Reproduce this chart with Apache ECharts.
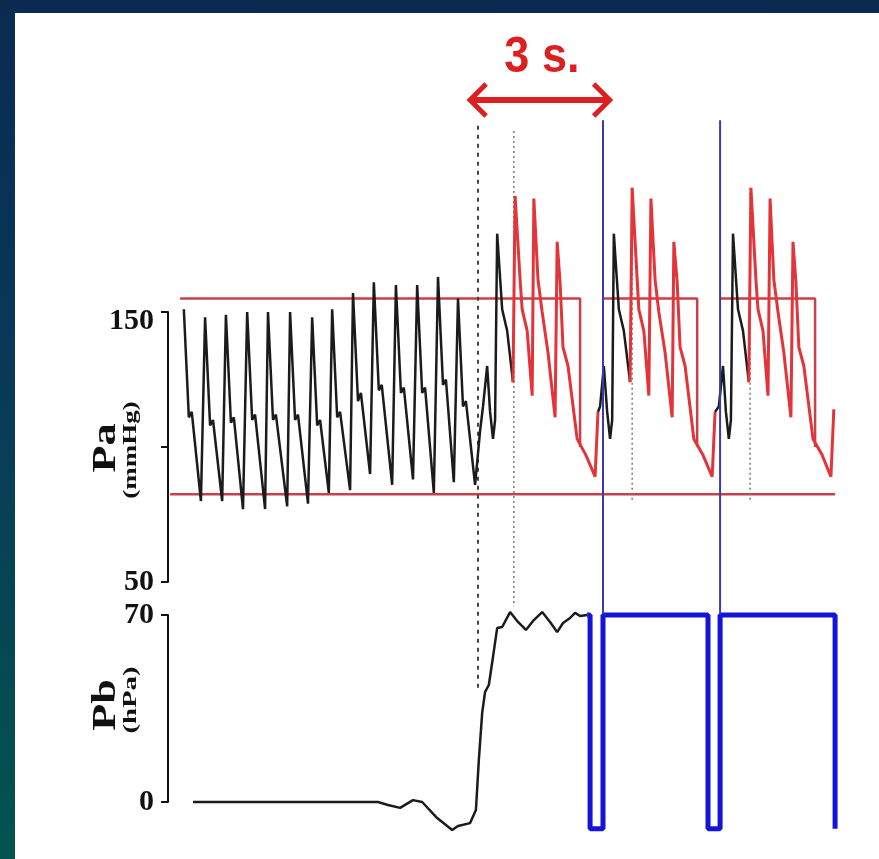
<!DOCTYPE html>
<html>
<head>
<meta charset="utf-8">
<script src="https://cdn.jsdelivr.net/npm/echarts@6/dist/echarts.min.js"></script>
<style>
html, body { margin: 0; padding: 0; }
body { width: 879px; height: 859px; position: relative; overflow: hidden;
       background: linear-gradient(to bottom, #0a2a52 0%, #083a58 45%, #03544f 100%); }
#paper { position: absolute; left: 15px; top: 13px; right: 0; bottom: 0; background: #fff; }
#main { position: absolute; left: 0; top: 0; width: 879px; height: 859px; }
</style>
</head>
<body>
<div id="paper"></div>
<div id="main"></div>
<script>
// time in s, Pa in mmHg, Pb in hPa

// arterial pressure, free beats before the cuff
var paBlack1 = [
    [0.38, 151], [0.50, 111], [0.57, 113], [0.79, 80],
    [0.89, 148], [1.01, 108], [1.08, 110], [1.30, 80],
    [1.39, 149], [1.51, 109], [1.58, 111], [1.80, 77],
    [1.90, 150], [2.02, 110], [2.09, 112], [2.33, 77],
    [2.40, 150], [2.52, 110], [2.59, 112], [2.86, 78],
    [2.93, 150], [3.05, 110], [3.12, 112], [3.36, 79],
    [3.46, 148], [3.58, 108], [3.65, 110], [3.86, 83],
    [3.94, 151], [4.06, 111], [4.13, 113], [4.37, 84],
    [4.44, 157], [4.56, 117], [4.63, 120], [4.85, 90],
    [4.94, 161], [5.06, 121], [5.13, 123], [5.38, 86],
    [5.47, 160], [5.59, 120], [5.66, 122], [5.88, 88],
    [5.98, 160], [6.10, 120], [6.17, 122], [6.38, 83],
    [6.48, 163], [6.60, 123], [6.67, 125], [6.86, 87],
    [6.96, 155], [7.08, 115], [7.15, 117], [7.37, 86],
    [7.49, 106], [7.56, 115], [7.66, 130], [7.73, 113], [7.80, 103], [7.85, 110],
    [7.90, 179], [8.02, 151], [8.14, 143], [8.28, 124]
];
var paRed1 = [
    [8.28, 124], [8.33, 193], [8.45, 162], [8.50, 151], [8.62, 143], [8.74, 119],
    [8.78, 192], [8.88, 162], [8.98, 150], [9.12, 135], [9.29, 111],
    [9.34, 176], [9.41, 161], [9.48, 137], [9.60, 130], [9.82, 103], [10.03, 97], [10.25, 89], [10.32, 113]
];
var paBlack2 = [
    [10.32, 113], [10.37, 115], [10.46, 130], [10.54, 113], [10.61, 103], [10.66, 110],
    [10.70, 179], [10.82, 151], [10.94, 143], [11.09, 124]
];
var paRed2 = [
    [11.09, 124], [11.14, 196], [11.26, 162], [11.30, 151], [11.42, 143], [11.54, 119],
    [11.59, 192], [11.69, 162], [11.78, 150], [11.93, 135], [12.10, 111],
    [12.14, 176], [12.22, 161], [12.29, 137], [12.41, 130], [12.62, 103], [12.84, 97], [13.06, 89], [13.13, 113]
];
var paBlack3 = [
    [13.13, 113], [13.22, 115], [13.32, 130], [13.39, 113], [13.46, 103], [13.51, 110],
    [13.56, 179], [13.68, 151], [13.80, 143], [13.94, 124]
];
var paRed3 = [
    [13.94, 124], [13.99, 196], [14.11, 162], [14.16, 151], [14.28, 143], [14.40, 119],
    [14.45, 192], [14.54, 162], [14.64, 150], [14.78, 135], [14.95, 111],
    [15.00, 176], [15.07, 161], [15.14, 137], [15.26, 130], [15.48, 103], [15.70, 97], [15.91, 89], [15.98, 114]
];

// limits drawn over Pa
var upperLimit1 = [[0.29, 155], [9.89, 155], [9.89, 100]];
var upperLimit2 = [[10.44, 155], [12.70, 155], [12.70, 100]];
var upperLimit3 = [[13.25, 155], [15.53, 155], [15.53, 100]];
var lowerLimit = [[0.05, 82.5], [16.01, 82.5]];

// cuff pressure
var pbBlack = [
    [0.60, 0], [5.04, 0], [5.28, -1.1], [5.57, -2.2], [5.88, 0.7], [6.10, 0], [6.46, -6],
    [6.82, -10.5], [6.96, -9], [7.25, -7.9], [7.39, -3], [7.46, 15.7], [7.54, 33.3],
    [7.61, 41.2], [7.70, 43.8], [7.80, 54.3], [7.90, 65.1], [8.02, 65.5], [8.21, 71.1],
    [8.40, 67.4], [8.59, 64.4], [8.78, 68.1], [8.98, 71.1], [9.17, 67.4], [9.34, 63.6],
    [9.48, 67], [9.65, 68.9], [9.77, 70.8], [9.89, 69.6], [10.06, 70]
];
var pbBlue = [
    [10.06, 70], [10.13, 70], [10.13, -10], [10.44, -10], [10.44, 70], [12.96, 70],
    [12.96, -10], [13.25, -10], [13.25, 70], [16.01, 70], [16.01, -10]
];

// vertical markers (time, top, bottom in mmHg scale)
var dashedMark = [7.44, 219, 10];
var dottedMarks = [[8.30, 217, 41], [11.14, 196, 80], [13.97, 196, 80]];
var cuffMarks = [[10.44, 221, 38], [13.25, 221, 38]];
var arrowSpan = [7.25, 10.6];
var arrowLevel = 228.5;

var paTicks = [50, 100, 150];
var pbTicks = [0, 70];

var myChart = echarts.init(document.getElementById('main'));

function line(data, gi, color, width, type, z) {
    return {
        type: 'line',
        xAxisIndex: gi,
        yAxisIndex: gi,
        data: data,
        symbol: 'none',
        clip: false,
        silent: true,
        z: z || 2,
        lineStyle: { color: color, width: width, type: type || 'solid' }
    };
}

function vertical(m) {
    return [[m[0], m[1]], [m[0], m[2]]];
}

var labelFont = { fontFamily: 'Liberation Serif', fontWeight: 'bold', fontSize: 30, color: '#111' };

var series = [
    line(lowerLimit, 0, '#c8404a', 2.5),
    line(upperLimit1, 0, '#c8404a', 2.5),
    line(upperLimit2, 0, '#c8404a', 2.5),
    line(upperLimit3, 0, '#c8404a', 2.5),
    line(vertical(dashedMark), 0, '#444', 2, [4, 5], 3),
    line(paBlack1, 0, '#1b1b1b', 2.5, 'solid', 4),
    line(paRed1, 0, '#e3343a', 3, 'solid', 4),
    line(paBlack2, 0, '#1b1b1b', 2.5, 'solid', 4),
    line(paRed2, 0, '#e3343a', 3, 'solid', 4),
    line(paBlack3, 0, '#1b1b1b', 2.5, 'solid', 4),
    line(paRed3, 0, '#e3343a', 3, 'solid', 4),
    line(pbBlack, 1, '#1b1b1b', 2.5, 'solid', 4),
    line(pbBlue, 1, '#1414d8', 5, 'solid', 4)
];
dottedMarks.forEach(function (m) { series.push(line(vertical(m), 0, '#777', 1.5, [2, 3], 3)); });
cuffMarks.forEach(function (m) { series.push(line(vertical(m), 0, '#3b3ba8', 2, 'solid', 5)); });

var option = {
    animation: false,
    grid: [
        { left: 168, right: 36, top: 312, bottom: 277, outerBoundsMode: 'none' },
        { left: 168, right: 36, top: 615, bottom: 57, outerBoundsMode: 'none' }
    ],
    xAxis: [
        { type: 'value', gridIndex: 0, min: 0, max: 16.2, show: false },
        { type: 'value', gridIndex: 1, min: 0, max: 16.2, show: false }
    ],
    yAxis: [
        {
            type: 'value', gridIndex: 0, min: paTicks[0], max: paTicks[2], interval: 50,
            splitLine: { show: false },
            axisLine: { show: true, lineStyle: { color: '#111', width: 2 } },
            axisTick: { show: true, length: 7, lineStyle: { color: '#111', width: 2 } },
            axisLabel: Object.assign({
                margin: 14,
                formatter: function (v) {
                    if (v === 150) return '{lo|150}';
                    if (v === 100) return '';
                    return String(v);
                },
                rich: { lo: Object.assign({ padding: [18, 0, 0, 0] }, labelFont) }
            }, labelFont)
        },
        {
            type: 'value', gridIndex: 1, min: pbTicks[0], max: pbTicks[1], interval: 70,
            splitLine: { show: false },
            axisLine: { show: true, lineStyle: { color: '#111', width: 2 } },
            axisTick: { show: true, length: 7, lineStyle: { color: '#111', width: 2 } },
            axisLabel: Object.assign({ margin: 14 }, labelFont)
        }
    ],
    series: series
};

myChart.setOption(option);

// annotations placed through the Pa scale
var a0 = myChart.convertToPixel({ xAxisIndex: 0, yAxisIndex: 0 }, [arrowSpan[0], arrowLevel]);
var a1 = myChart.convertToPixel({ xAxisIndex: 0, yAxisIndex: 0 }, [arrowSpan[1], arrowLevel]);
var red = '#dd1f1f';

function vtext(x, y, text, size, stretch) {
    return {
        type: 'text', x: x, y: y, rotation: Math.PI / 2, scaleX: stretch,
        style: {
            text: text, font: 'bold ' + size + 'px "Liberation Serif"', fill: '#111',
            align: 'center', verticalAlign: 'middle', textAlign: 'center', textVerticalAlign: 'middle'
        }
    };
}

myChart.setOption({
    graphic: [
        { type: 'polyline', shape: { points: [[a0[0] + 3, a0[1]], [a1[0] - 3, a1[1]]] }, style: { stroke: red, lineWidth: 6 } },
        { type: 'polyline', shape: { points: [[a0[0] + 16, a0[1] - 16], [a0[0], a0[1]], [a0[0] + 16, a0[1] + 16]] },
          style: { stroke: red, lineWidth: 5, fill: null, lineJoin: 'miter' } },
        { type: 'polyline', shape: { points: [[a1[0] - 16, a1[1] - 16], [a1[0], a1[1]], [a1[0] - 16, a1[1] + 16]] },
          style: { stroke: red, lineWidth: 5, fill: null, lineJoin: 'miter' } },
        {
            type: 'text', x: (a0[0] + a1[0]) / 2 + 2, y: a0[1] - 42, scaleX: 0.9,
            style: {
                text: '3 s.', font: 'bold 50px "Liberation Sans"', fill: red,
                align: 'center', verticalAlign: 'middle', textAlign: 'center', textVerticalAlign: 'middle'
            }
        },
        vtext(106, 448, 'Pa', 34, 1.3),
        vtext(131, 450, '(mmHg)', 18, 1.5),
        vtext(106, 705, 'Pb', 34, 1.3),
        vtext(131, 700, '(hPa)', 18, 1.6)
    ]
});
</script>
</body>
</html>
